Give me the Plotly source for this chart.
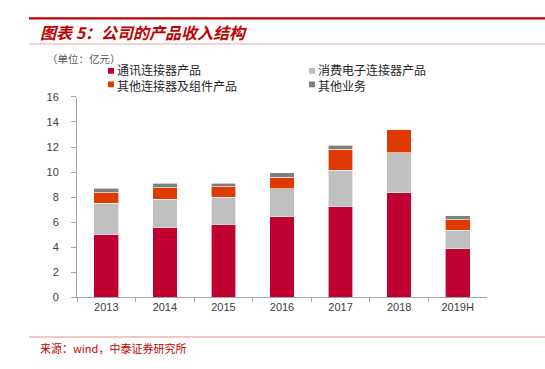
import plotly.graph_objects as go

categories = ["2013", "2014", "2015", "2016", "2017", "2018", "2019H"]
telecom = [5.02, 5.60, 5.82, 6.44, 7.26, 8.35, 3.89]
consumer = [2.48, 2.23, 2.16, 2.22, 2.89, 3.19, 1.44]
other_conn = [0.85, 0.93, 0.83, 0.94, 1.67, 1.86, 0.87]
other_biz = [0.35, 0.36, 0.31, 0.34, 0.34, 0.0, 0.32]

series_names = ["通讯连接器产品", "消费电子连接器产品", "其他连接器及组件产品", "其他业务"]
series_values = [telecom, consumer, other_conn, other_biz]
colors = ["#C00030", "#BFBFBF", "#DF3A00", "#7F7F7F"]

W, H = 545, 369
def px(x):
    return x / W
def py(y):
    return 1 - y / H

fig = go.Figure()
for name, vals, c in zip(series_names, series_values, colors):
    fig.add_trace(go.Bar(x=categories, y=vals, name=name, marker_color=c,
                         marker_line_color="white", marker_line_width=0.6,
                         showlegend=False))

font_cjk = "Noto Sans CJK SC, Liberation Sans, Arial"
shapes = [
    dict(type="line", xref="paper", yref="paper", x0=px(29), x1=1, y0=py(12.7), y1=py(12.7),
         line=dict(color="#C00000", width=2.2)),
    dict(type="line", xref="paper", yref="paper", x0=px(29), x1=1, y0=py(39.3), y1=py(39.3),
         line=dict(color="#E8A8A8", width=1)),
    dict(type="line", xref="paper", yref="paper", x0=px(29), x1=1, y0=py(342), y1=py(342),
         line=dict(color="#F0B4B4", width=1.5)),
]
annotations = [
    dict(text="<b><i>图表 5：公司的产品收入结构</i></b>", xref="paper", yref="paper",
         x=px(38), y=py(27), xanchor="left", yanchor="middle", showarrow=False,
         font=dict(family=font_cjk, size=16, color="#C00000")),
    dict(text="（单位：亿元）", xref="paper", yref="paper", borderpad=0,
         x=px(46), y=py(54), xanchor="left", yanchor="middle", showarrow=False,
         font=dict(family=font_cjk, size=10.5, color="#595959")),
    dict(text="来源：wind，中泰证券研究所", xref="paper", yref="paper",
         x=px(38), y=py(354), xanchor="left", yanchor="middle", showarrow=False,
         font=dict(family=font_cjk, size=11, color="#C00000")),
]
legend_pos = [(108, 67), (309, 67), (108, 81), (309, 81)]
for (lx, ly), c in zip(legend_pos, colors):
    shapes.append(dict(type="rect", xref="paper", yref="paper",
                       x0=px(lx), x1=px(lx + 6), y0=py(ly + 3), y1=py(ly - 3),
                       fillcolor=c, line=dict(width=0)))
for col, lx in enumerate([108, 309]):
    annotations.append(dict(text=series_names[col] + "<br>" + series_names[col + 2],
                            xref="paper", yref="paper", borderpad=0,
                            x=px(lx + 8), y=py(74), xanchor="left", yanchor="middle",
                            align="left", showarrow=False,
                            font=dict(family=font_cjk, size=12, color="#262626")))

fig.update_layout(
    width=W, height=H, barmode="stack", bargap=0.58,
    margin=dict(l=0, r=0, t=0, b=0),
    paper_bgcolor="white", plot_bgcolor="white",
    shapes=shapes, annotations=annotations,
    font=dict(family="Liberation Sans, Arial", size=11, color="#404040"),
    xaxis=dict(domain=[px(77), px(487)], showline=True, linecolor="#A6A6A6", linewidth=1,
               ticks="outside", tickson="boundaries", ticklen=4, tickcolor="#A6A6A6",
               tickfont=dict(size=11, color="#404040")),
    yaxis=dict(domain=[py(301), py(94)], range=[0, 16], dtick=2, showline=True,
               linecolor="#A6A6A6", linewidth=1, ticks="outside", ticklen=5,
               tickcolor="#A6A6A6", showgrid=False, zeroline=False,
               ticklabelstandoff=10, tickfont=dict(size=11, color="#404040")),
)
fig.write_html("out.html", config={"displayModeBar": False},
               post_script="document.body.style.margin='0';document.body.style.overflow='hidden';")
